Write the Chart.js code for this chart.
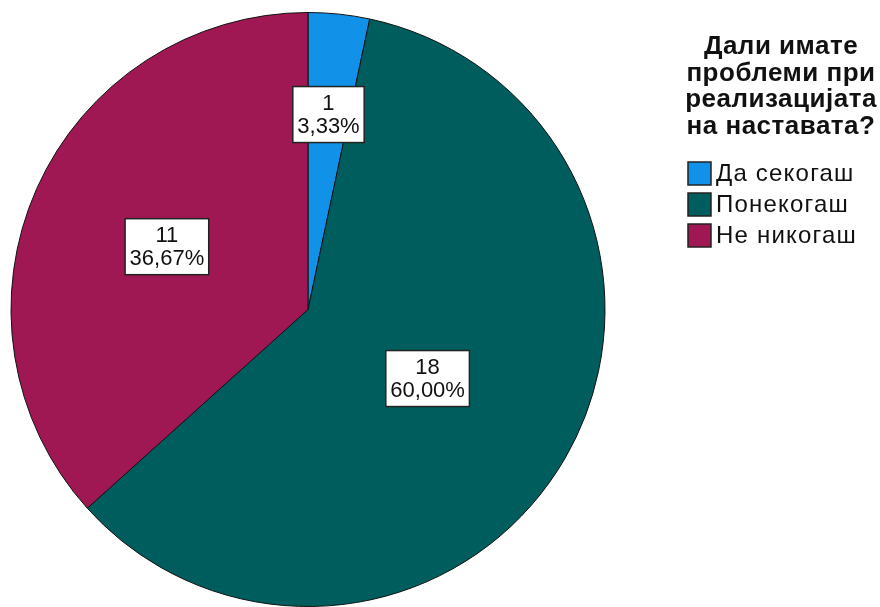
<!DOCTYPE html>
<html>
<head>
<meta charset="utf-8">
<script src="https://cdn.jsdelivr.net/npm/chart.js@4"></script>
<style>
  html, body { margin: 0; background: #fff; }
</style>
</head>
<body>
<canvas id="grafik" width="880" height="607"></canvas>
<script>
const kategorii = ['Да секогаш', 'Понекогаш', 'Не никогаш'];
const frekvencii = [1, 18, 11];
const naslov = ['Дали имате', 'проблеми при', 'реализацијата', 'на наставата?'];
const boi = ['#1192e8', '#005d5d', '#9f1853'];

// kolku daleku od centarot se etiketite (del od radiusot)
const oddalecenost = [0.66, 0.465, 0.52];

const vkupno = frekvencii.reduce((a, b) => a + b, 0);

function procent(v) {
  return (v / vkupno * 100).toFixed(2).replace('.', ',') + '%';
}

const etiketi = {
  id: 'etiketi',
  afterDatasetsDraw(chart) {
    const ctx = chart.ctx;
    const meta = chart.getDatasetMeta(0);
    ctx.save();
    ctx.font = '22px "Liberation Sans", Arial, sans-serif';
    ctx.textAlign = 'center';
    ctx.textBaseline = 'middle';
    meta.data.forEach((arc, i) => {
      const p = arc.getProps(['x', 'y', 'startAngle', 'endAngle', 'outerRadius'], true);
      const agol = (p.startAngle + p.endAngle) / 2;
      const d = p.outerRadius * oddalecenost[i];
      const cx = p.x + Math.cos(agol) * d;
      const cy = p.y + Math.sin(agol) * d;
      const redovi = [String(frekvencii[i]), procent(frekvencii[i])];
      const w = Math.max(...redovi.map(t => ctx.measureText(t).width)) + 9;
      const h = 56;
      ctx.fillStyle = '#fff';
      ctx.fillRect(cx - w / 2, cy - h / 2, w, h);
      ctx.strokeStyle = '#222';
      ctx.lineWidth = 1.5;
      ctx.strokeRect(cx - w / 2, cy - h / 2, w, h);
      ctx.fillStyle = '#111';
      ctx.fillText(redovi[0], cx, cy - 11);
      ctx.fillText(redovi[1], cx, cy + 12);
    });
    ctx.restore();
  }
};

const legenda = {
  id: 'legenda',
  afterDraw(chart) {
    const ctx = chart.ctx;
    ctx.save();
    ctx.fillStyle = '#111';
    ctx.textAlign = 'center';
    ctx.textBaseline = 'middle';
    ctx.font = 'bold 26px "Liberation Sans", Arial, sans-serif';
    ctx.letterSpacing = '0.5px';
    naslov.forEach((red, i) => {
      ctx.fillText(red, 781, 47 + i * 26.6);
    });
    ctx.textAlign = 'left';
    ctx.font = '24px "Liberation Sans", Arial, sans-serif';
    ctx.letterSpacing = '1.2px';
    chart.data.labels.forEach((lab, i) => {
      const y = 162 + i * 31;
      ctx.fillStyle = chart.data.datasets[0].backgroundColor[i];
      ctx.fillRect(688, y, 23, 23);
      ctx.strokeStyle = '#222';
      ctx.lineWidth = 1.5;
      ctx.strokeRect(688, y, 23, 23);
      ctx.fillStyle = '#111';
      ctx.fillText(lab, 716, y + 12);
    });
    ctx.restore();
  }
};

new Chart(document.getElementById('grafik'), {
  type: 'pie',
  data: {
    labels: kategorii,
    datasets: [{
      data: frekvencii,
      backgroundColor: boi,
      borderColor: '#111',
      borderWidth: 1
    }]
  },
  options: {
    responsive: false,
    animation: false,
    layout: { padding: { left: 10, top: 12, right: 274, bottom: 0 } },
    plugins: {
      legend: { display: false },
      tooltip: { enabled: false }
    }
  },
  plugins: [etiketi, legenda]
});
</script>
</body>
</html>
